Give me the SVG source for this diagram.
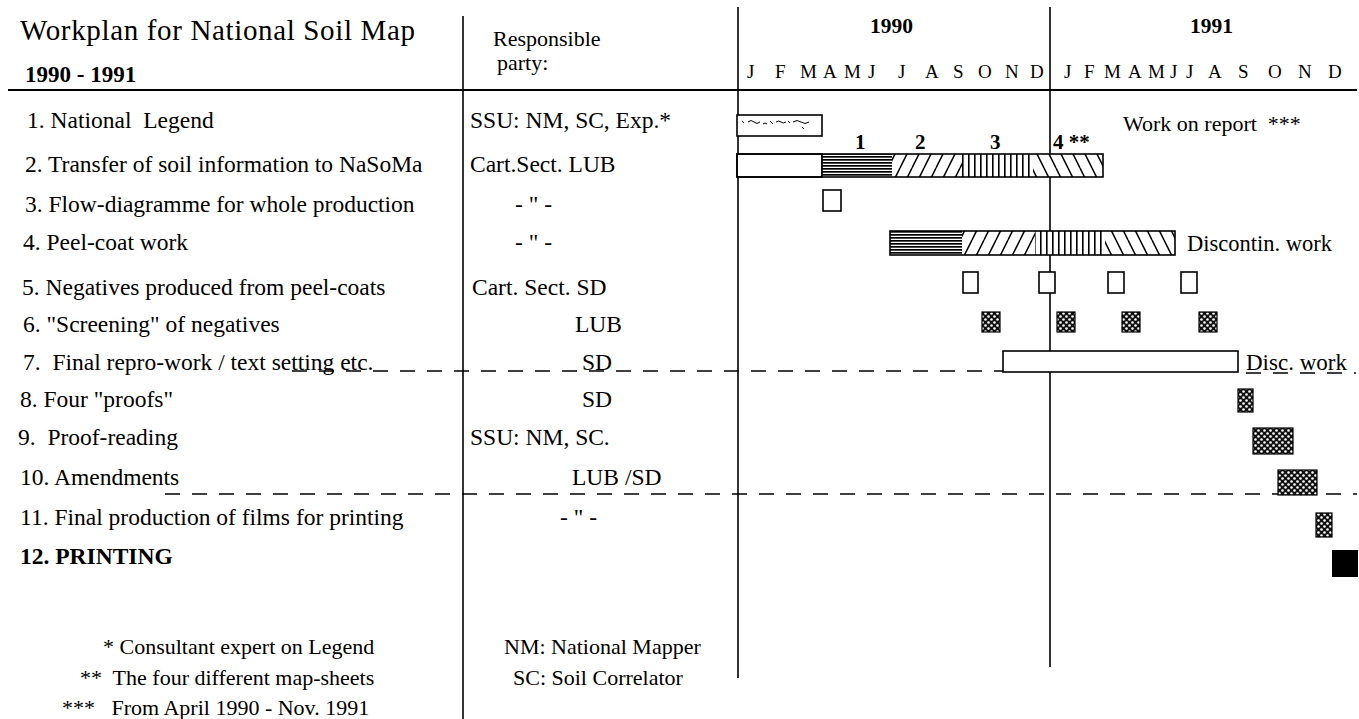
<svg xmlns="http://www.w3.org/2000/svg" width="1359" height="719" viewBox="0 0 1359 719">
<style>
text{font-family:"Liberation Serif","Times New Roman",serif;fill:#000;white-space:pre}
.r{font-size:23.5px}
.m{font-size:19px}
.b{font-weight:bold}
.ln{stroke:#000;stroke-width:1.6;fill:none}
.dash{stroke:#000;stroke-width:1.6;stroke-dasharray:15 12;fill:none}
.box{stroke:#000;stroke-width:1.6;fill:#fff}
.chk{stroke:#000;stroke-width:1.2;fill:url(#chk)}
</style>
<defs>
<pattern id="hl" width="6" height="3" patternUnits="userSpaceOnUse"><rect width="6" height="3" fill="#fff"/><rect width="6" height="1.7" fill="#000"/></pattern>
<pattern id="fw" width="12" height="24" patternUnits="userSpaceOnUse"><rect width="12" height="24" fill="#fff"/><path d="M0 24L12 0M-6 12L0 0M12 24L18 12" stroke="#000" stroke-width="1.5"/></pattern>
<pattern id="bw" width="12" height="24" patternUnits="userSpaceOnUse"><rect width="12" height="24" fill="#fff"/><path d="M0 0L12 24M-6 12L0 24M12 0L18 12" stroke="#000" stroke-width="1.5"/></pattern>
<pattern id="vl" width="6" height="6" patternUnits="userSpaceOnUse"><rect width="6" height="6" fill="#fff"/><rect x="2" width="1.6" height="6" fill="#000"/></pattern>
<pattern id="chk" width="6" height="6" patternUnits="userSpaceOnUse"><rect width="6" height="6" fill="#111"/><circle cx="1.5" cy="1.5" r="1.3" fill="#fff"/><circle cx="4.5" cy="4.5" r="1.3" fill="#fff"/></pattern>
</defs>

<g id="connectors">
<line class="ln" x1="8" y1="90" x2="1357" y2="90" style="stroke-width:2"/>
<line class="ln" x1="463" y1="16" x2="463" y2="719"/>
<line class="ln" x1="738" y1="7" x2="738" y2="678"/>
<line class="ln" x1="1050" y1="7" x2="1050" y2="667"/>
<line class="dash" x1="292" y1="371" x2="1003" y2="371"/>
<line class="dash" x1="1246" y1="373" x2="1356" y2="373"/>
<line class="dash" x1="165" y1="494" x2="1357" y2="494"/>
</g>

<g id="header">
<text x="20" y="40" style="font-size:29px" textLength="395" lengthAdjust="spacing">Workplan for National Soil Map</text>
<text x="25" y="82" class="b" style="font-size:23px">1990 - 1991</text>
<text x="493" y="46" style="font-size:22px">Responsible</text>
<text x="497" y="70" style="font-size:22px">party:</text>
<text x="870" y="33" class="b" style="font-size:21.5px">1990</text>
<text x="1190" y="33" class="b" style="font-size:21.5px">1991</text>
<g class="m">
<text x="747" y="78" class="m">J</text><text x="775" y="78" class="m">F</text><text x="800" y="78" class="m">M</text><text x="823" y="78" class="m">A</text><text x="844" y="78" class="m">M</text><text x="868" y="78" class="m">J</text><text x="898" y="78" class="m">J</text><text x="925" y="78" class="m">A</text><text x="953" y="78" class="m">S</text><text x="978" y="78" class="m">O</text><text x="1005" y="78" class="m">N</text><text x="1030" y="78" class="m">D</text>
<text x="1064" y="78" class="m">J</text><text x="1084" y="78" class="m">F</text><text x="1104" y="78" class="m">M</text><text x="1128" y="78" class="m">A</text><text x="1148" y="78" class="m">M</text><text x="1170" y="78" class="m">J</text><text x="1186" y="78" class="m">J</text><text x="1208" y="78" class="m">A</text><text x="1238" y="78" class="m">S</text><text x="1268" y="78" class="m">O</text><text x="1298" y="78" class="m">N</text><text x="1328" y="78" class="m">D</text>
</g>
</g>

<g id="row1">
<text x="27" y="128" class="r">1. National  Legend</text>
<text x="470" y="128" class="r">SSU: NM, SC, Exp.*</text>
<rect class="box" x="737" y="115" width="85" height="21"/>
<path d="M742 121l2 2M748 122q3-3 6 0t6 0M763 124q2-2 4 0M770 121l3 3M776 122q3-2 5 0t5 0M788 121l2 2M793 122q4-3 8 0t8 0M802 127l2 2" stroke="#000" stroke-width="1" fill="none"/>
<text x="1123" y="131" style="font-size:22px">Work on report  ***</text>
</g>

<g id="row2">
<text x="25" y="172" class="r">2. Transfer of soil information to NaSoMa</text>
<text x="470" y="172" class="r">Cart.Sect. LUB</text>
<rect class="box" x="737" y="154" width="85" height="23"/>
<rect x="822" y="154" width="70" height="23" fill="url(#hl)"/>
<rect x="892" y="154" width="70" height="23" fill="url(#fw)"/>
<rect x="962" y="154" width="71" height="23" fill="url(#vl)"/>
<rect x="1033" y="154" width="70" height="23" fill="url(#bw)"/>
<rect x="737" y="154" width="366" height="23" fill="none" stroke="#000" stroke-width="1.6"/>
<line class="ln" x1="822" y1="154" x2="822" y2="177"/>
<text x="855" y="149" class="b" style="font-size:21px">1</text>
<text x="915" y="149" class="b" style="font-size:21px">2</text>
<text x="990" y="149" class="b" style="font-size:21px">3</text>
<text x="1053" y="149" class="b" style="font-size:21px">4 **</text>
</g>

<g id="row3">
<text x="25" y="212" class="r">3. Flow-diagramme for whole production</text>
<text x="515" y="212" class="r">- " -</text>
<rect class="box" x="823" y="190" width="18" height="21"/>
</g>

<g id="row4">
<text x="23" y="250" class="r">4. Peel-coat work</text>
<text x="515" y="250" class="r">- " -</text>
<rect x="890" y="231" width="72" height="24" fill="url(#hl)"/>
<rect x="962" y="231" width="73" height="24" fill="url(#fw)"/>
<rect x="1035" y="231" width="70" height="24" fill="url(#vl)"/>
<rect x="1105" y="231" width="70" height="24" fill="url(#bw)"/>
<rect x="890" y="231" width="285" height="24" fill="none" stroke="#000" stroke-width="1.6"/>
<text x="1187" y="251" style="font-size:22.5px">Discontin. work</text>
</g>

<g id="row5">
<text x="22" y="295" class="r">5. Negatives produced from peel-coats</text>
<text x="472" y="295" class="r">Cart. Sect. SD</text>
<rect class="box" x="963" y="272" width="15" height="21"/>
<rect class="box" x="1039" y="272" width="16" height="21"/>
<rect class="box" x="1108" y="272" width="16" height="21"/>
<rect class="box" x="1181" y="272" width="16" height="21"/>
</g>

<g id="row6">
<text x="23" y="332" class="r">6. "Screening" of negatives</text>
<text x="575" y="332" class="r">LUB</text>
<rect class="chk" x="982" y="312" width="18" height="20"/>
<rect class="chk" x="1057" y="312" width="18" height="20"/>
<rect class="chk" x="1122" y="312" width="18" height="20"/>
<rect class="chk" x="1199" y="312" width="18" height="20"/>
</g>

<g id="row7">
<text x="23" y="370" class="r">7.  Final repro-work / text setting etc.</text>
<text x="582" y="370" class="r">SD</text>
<rect class="box" x="1003" y="351" width="235" height="21"/>
<text x="1246" y="370" style="font-size:23px">Disc. work</text>
</g>

<g id="row8">
<text x="20" y="407" class="r">8. Four "proofs"</text>
<text x="582" y="407" class="r">SD</text>
<rect class="chk" x="1238" y="389" width="15" height="23"/>
</g>

<g id="row9">
<text x="18" y="445" class="r">9.  Proof-reading</text>
<text x="470" y="445" class="r">SSU: NM, SC.</text>
<rect class="chk" x="1253" y="428" width="40" height="26"/>
</g>

<g id="row10">
<text x="20" y="485" class="r">10. Amendments</text>
<text x="572" y="485" class="r">LUB /SD</text>
<rect class="chk" x="1278" y="470" width="39" height="25"/>
</g>

<g id="row11">
<text x="20" y="525" class="r">11. Final production of films for printing</text>
<text x="560" y="525" class="r">- " -</text>
<rect class="chk" x="1316" y="513" width="16" height="24"/>
</g>

<g id="row12">
<text x="20" y="564" class="r b">12. PRINTING</text>
<rect x="1332" y="550" width="26" height="27" fill="#000"/>
</g>

<g id="footnotes">
<text x="103" y="654" style="font-size:22px">* Consultant expert on Legend</text>
<text x="80" y="685" style="font-size:22px">**  The four different map-sheets</text>
<text x="62" y="715" style="font-size:22px">***   From April 1990 - Nov. 1991</text>
<text x="504" y="654" style="font-size:22px">NM: National Mapper</text>
<text x="513" y="685" style="font-size:22px">SC: Soil Correlator</text>
</g>
</svg>
